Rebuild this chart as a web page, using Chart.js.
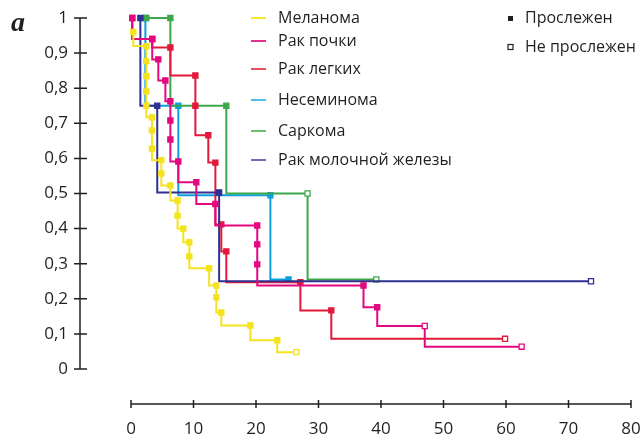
<!DOCTYPE html>
<html>
<head>
  <title>Выживаемость</title>
  <script src="https://cdn.jsdelivr.net/npm/chart.js"></script>
  <style>
    body { margin: 0; background: #fff; }
  </style>
</head>
<body>
  <canvas id="survChart" width="642" height="436"></canvas>

  <script>
    // time points (x) and survival (y); "open" = не прослежен
    const melanomaT = [0.37, 2.45, 2.45, 2.45, 2.45, 2.45, 3.35, 3.35, 3.35, 4.85, 4.85, 6.3, 7.45, 7.45, 8.37, 9.33, 9.33, 12.5, 13.65, 13.65, 14.45, 19.1, 23.4, 26.45];
    const melanomaS = [0.96, 0.92, 0.877, 0.834, 0.791, 0.75, 0.717, 0.68, 0.628, 0.595, 0.557, 0.523, 0.48, 0.437, 0.40, 0.361, 0.321, 0.287, 0.238, 0.204, 0.161, 0.124, 0.082, 0.048];
    const melanomaOpen = [23];

    const kidneyT = [0.2, 3.4, 4.37, 5.5, 6.3, 6.3, 6.3, 7.57, 10.45, 13.5, 20.2, 20.2, 20.2, 37.2, 39.4, 47.0, 62.5];
    const kidneyS = [1.0, 0.94, 0.882, 0.822, 0.763, 0.708, 0.654, 0.591, 0.532, 0.47, 0.409, 0.355, 0.298, 0.238, 0.176, 0.1225, 0.0635];
    const kidneyOpen = [15, 16];

    const lungT = [0.2, 3.4, 6.3, 10.3, 10.3, 12.37, 13.5, 14.45, 15.25, 27.1, 32.05, 59.85];
    const lungS = [1.0, 0.94, 0.916, 0.836, 0.75, 0.666, 0.588, 0.412, 0.335, 0.247, 0.167, 0.086];
    const lungOpen = [11];

    const nonseminomaT = [2.3, 7.57, 22.3, 25.2];
    const nonseminomaS = [1.0, 0.75, 0.495, 0.255];
    const nonseminomaOpen = [];

    const sarcomaT = [2.45, 6.3, 15.25, 28.25, 39.25];
    const sarcomaS = [1.0, 1.0, 0.75, 0.5, 0.255];
    const sarcomaOpen = [3, 4];

    const breastT = [1.5, 4.2, 14.1, 73.6];
    const breastS = [1.0, 0.75, 0.503, 0.25];
    const breastOpen = [3];

    const seriesNames = ['Меланома', 'Рак почки', 'Рак легких', 'Несеминома', 'Саркома', 'Рак молочной железы'];
    const markerNames = ['Прослежен', 'Не прослежен'];
    const xTicks = [0, 10, 20, 30, 40, 50, 60, 70, 80];
    const yTicks = [0, 0.1, 0.2, 0.3, 0.4, 0.5, 0.6, 0.7, 0.8, 0.9, 1];

    const colors = ['#f4e31e', '#e5077f', '#e2193b', '#0aa0e0', '#3da84a', '#2e3192'];
    const legendColors = ['#f6e928', '#e2338f', '#e8505f', '#4bbfe8', '#6cbd6c', '#6e6db2'];
    const drawOrder = [0, 1, 3, 5, 4, 2];
    const ink = '#231f20';

    function makeSet(i, ts, ss, open) {
      return {
        label: seriesNames[i],
        data: ts.map((t, k) => ({ x: t, y: ss[k] })),
        borderColor: colors[i],
        borderWidth: 2,
        stepped: 'after',
        fill: false,
        clip: false,
        order: drawOrder[i],
        pointStyle: 'rect',
        pointRadius: 3.6,
        pointBorderWidth: 1.3,
        pointBorderColor: colors[i],
        pointBackgroundColor: ts.map((t, k) => open.includes(k) ? '#ffffff' : colors[i])
      };
    }

    const datasets = [
      makeSet(0, melanomaT, melanomaS, melanomaOpen),
      makeSet(1, kidneyT, kidneyS, kidneyOpen),
      makeSet(2, lungT, lungS, lungOpen),
      makeSet(3, nonseminomaT, nonseminomaS, nonseminomaOpen),
      makeSet(4, sarcomaT, sarcomaS, sarcomaOpen),
      makeSet(5, breastT, breastS, breastOpen)
    ];

    // axis lines with ticks crossing them, detached like in the figure
    const axesPlugin = {
      id: 'axes',
      beforeDatasetsDraw(chart) {
        const { ctx, chartArea } = chart;
        const x = chart.scales.x, y = chart.scales.y;
        ctx.save();
        ctx.strokeStyle = ink;
        ctx.lineWidth = 1.5;
        ctx.beginPath();
        const ax = chartArea.left;
        ctx.moveTo(ax, y.getPixelForValue(1));
        ctx.lineTo(ax, y.getPixelForValue(0));
        yTicks.forEach(v => {
          const py = y.getPixelForValue(v);
          ctx.moveTo(ax - 6, py);
          ctx.lineTo(ax + 7, py);
        });
        const ay = chartArea.bottom;
        ctx.moveTo(x.getPixelForValue(0), ay);
        ctx.lineTo(x.getPixelForValue(80), ay);
        xTicks.forEach(v => {
          const px = x.getPixelForValue(v);
          ctx.moveTo(px, ay - 4);
          ctx.lineTo(px, ay + 4);
        });
        ctx.stroke();
        ctx.restore();
      }
    };

    const legendPlugin = {
      id: 'kmLegend',
      afterDraw(chart) {
        const ctx = chart.ctx;
        const rows = [18, 41, 69, 100, 131, 160];
        ctx.save();
        ctx.font = '16px "Open Sans"';
        ctx.textBaseline = 'middle';
        ctx.textAlign = 'left';
        rows.forEach((ry, i) => {
          ctx.strokeStyle = legendColors[i];
          ctx.lineWidth = 2;
          ctx.beginPath();
          ctx.moveTo(251, ry);
          ctx.lineTo(266, ry);
          ctx.stroke();
          ctx.fillStyle = ink;
          ctx.fillText(seriesNames[i], 278, ry);
        });
        // marker key
        ctx.fillStyle = ink;
        ctx.fillRect(508, 16, 5, 5);
        ctx.fillText(markerNames[0], 525, 18);
        ctx.strokeStyle = ink;
        ctx.lineWidth = 1.2;
        ctx.strokeRect(508, 44.5, 5, 5);
        ctx.fillText(markerNames[1], 525, 47);
        // panel letter
        ctx.font = 'italic bold 28px "Liberation Serif"';
        ctx.textBaseline = 'alphabetic';
        ctx.fillText('a', 11, 31);
        ctx.restore();
      }
    };

    const ctx = document.getElementById('survChart').getContext('2d');
    const chart = new Chart(ctx, {
      type: 'line',
      data: { datasets: datasets },
      options: {
        responsive: false,
        devicePixelRatio: 1,
        animation: false,
        layout: { padding: { top: 18, right: 11, left: 0, bottom: 0 } },
        plugins: { legend: { display: false }, tooltip: { enabled: false } },
        scales: {
          x: {
            type: 'linear',
            min: -8.16,
            max: 80,
            grid: { display: false, drawTicks: true, tickLength: 15 },
            border: { display: false },
            afterFit: s => { s.height = 32; },
            afterBuildTicks: s => { s.ticks = xTicks.map(v => ({ value: v })); },
            ticks: {
              padding: 0,
              color: ink,
              font: { family: 'Open Sans', size: 17 },
              maxRotation: 0,
              autoSkip: false
            }
          },
          y: {
            type: 'linear',
            min: -0.0997,
            max: 1,
            grid: { display: false, drawTicks: true, tickLength: 6 },
            border: { display: false },
            afterFit: s => { s.width = 80; },
            afterBuildTicks: s => { s.ticks = yTicks.map(v => ({ value: v })); },
            ticks: {
              padding: 6,
              color: ink,
              font: { family: 'Open Sans', size: 17 },
              autoSkip: false,
              callback: v => String(Math.round(v * 10) / 10).replace('.', ',')
            }
          }
        }
      },
      plugins: [axesPlugin, legendPlugin]
    });
  </script>
</body>
</html>
